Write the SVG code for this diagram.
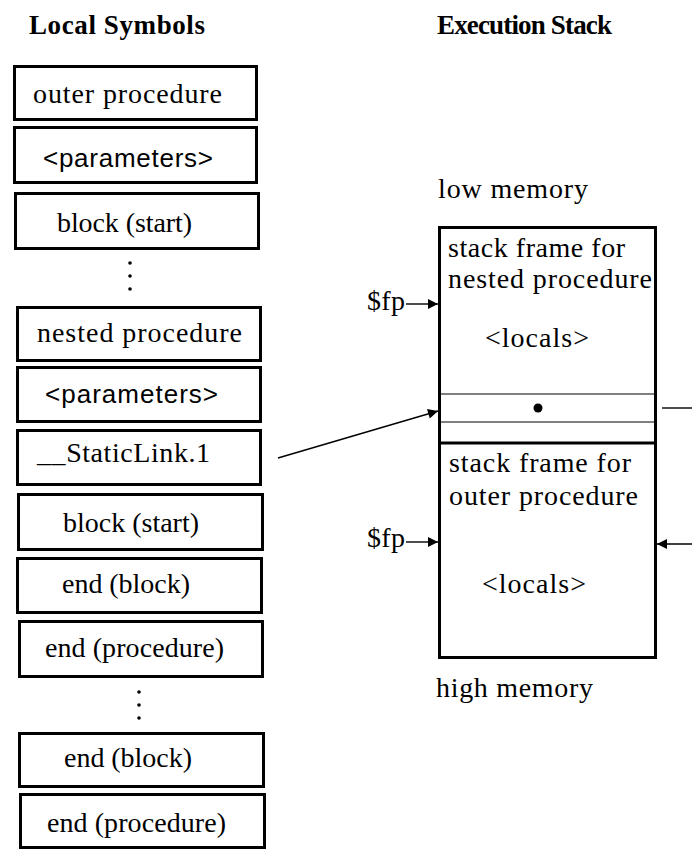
<svg xmlns="http://www.w3.org/2000/svg" width="692" height="850" viewBox="0 0 692 850">
<style>
.box{fill:#fff;stroke:#000;stroke-width:3}
.t{font-family:"Liberation Serif","Times New Roman",serif;font-size:28px;fill:#000}
.s{font-family:"Liberation Sans",Arial,sans-serif;font-size:26px;fill:#000}
.h{font-family:"Liberation Serif","Times New Roman",serif;font-size:27px;font-weight:bold;fill:#000}
.ln{stroke:#000;stroke-width:1.4;fill:none}
</style>
<defs>
<marker id="ah" viewBox="0 0 10 10" refX="10" refY="5" markerWidth="11" markerHeight="10" markerUnits="userSpaceOnUse" orient="auto">
<path d="M0,0 L10,5 L0,10 z" fill="#000"/>
</marker>
</defs>
<rect width="692" height="850" fill="#fff"/>
<text class="h" x="29" y="34" textLength="176" lengthAdjust="spacing">Local Symbols</text>
<text class="h" x="437" y="34" textLength="175" lengthAdjust="spacing">Execution Stack</text>

<g id="outer-procedure"><rect class="box" x="14.5" y="66.5" width="242" height="53"/><text class="t" x="33" y="103" textLength="189" lengthAdjust="spacing">outer procedure</text></g>
<g id="parameters-1"><rect class="box" x="14.5" y="127.5" width="242" height="55"/><text class="s" x="43" y="167" textLength="170" lengthAdjust="spacing">&lt;parameters&gt;</text></g>
<g id="block-start-1"><rect class="box" x="15.5" y="193.5" width="243" height="55"/><text class="t" x="57" y="232" textLength="135" lengthAdjust="spacing">block (start)</text></g>
<g id="dots-1"><circle cx="130" cy="263" r="1.8"/><circle cx="130" cy="276" r="1.8"/><circle cx="130" cy="289" r="1.8"/></g>
<g id="nested-procedure"><rect class="box" x="17.5" y="307.5" width="243" height="53"/><text class="t" x="37" y="342" textLength="205" lengthAdjust="spacing">nested procedure</text></g>
<g id="parameters-2"><rect class="box" x="17.5" y="367.5" width="243" height="54"/><text class="s" x="45" y="403" textLength="173" lengthAdjust="spacing">&lt;parameters&gt;</text></g>
<g id="static-link"><rect class="box" x="17.5" y="430.5" width="243" height="54"/><text class="t" x="37" y="462" textLength="173" lengthAdjust="spacing">__StaticLink.1</text></g>
<g id="block-start-2"><rect class="box" x="18.5" y="494.5" width="244" height="55"/><text class="t" x="63" y="532" textLength="136" lengthAdjust="spacing">block (start)</text></g>
<g id="end-block-1"><rect class="box" x="17.5" y="558.5" width="244" height="54"/><text class="t" x="62" y="593" textLength="128" lengthAdjust="spacing">end (block)</text></g>
<g id="end-procedure-1"><rect class="box" x="19.5" y="621.5" width="243" height="55"/><text class="t" x="45" y="657" textLength="179" lengthAdjust="spacing">end (procedure)</text></g>
<g id="dots-2"><circle cx="139" cy="692" r="1.8"/><circle cx="139" cy="705" r="1.8"/><circle cx="139" cy="718" r="1.8"/></g>
<g id="end-block-2"><rect class="box" x="19.5" y="733.5" width="244" height="53"/><text class="t" x="64" y="767" textLength="128" lengthAdjust="spacing">end (block)</text></g>
<g id="end-procedure-2"><rect class="box" x="20.5" y="794.5" width="244" height="53"/><text class="t" x="47" y="832" textLength="179" lengthAdjust="spacing">end (procedure)</text></g>

<g id="stack">
<rect class="box" x="439.5" y="227.5" width="216" height="430"/>
<line x1="439" y1="394" x2="656" y2="394" stroke="#000" stroke-width="1.2"/>
<line x1="439" y1="422" x2="656" y2="422" stroke="#000" stroke-width="1.2"/>
<line x1="439" y1="443" x2="656" y2="443" stroke="#000" stroke-width="3"/>
<circle cx="538" cy="408" r="4.5"/>
<text class="t" x="438" y="198" textLength="150" lengthAdjust="spacing">low memory</text>
<text class="t" x="448" y="257" textLength="177" lengthAdjust="spacing">stack frame for</text>
<text class="t" x="448" y="288" textLength="204" lengthAdjust="spacing">nested procedure</text>
<text class="t" x="485" y="347" textLength="104" lengthAdjust="spacing">&lt;locals&gt;</text>
<text class="t" x="449" y="472" textLength="182" lengthAdjust="spacing">stack frame for</text>
<text class="t" x="449" y="505" textLength="189" lengthAdjust="spacing">outer procedure</text>
<text class="t" x="482" y="593" textLength="104" lengthAdjust="spacing">&lt;locals&gt;</text>
<text class="t" x="436" y="697" textLength="157" lengthAdjust="spacing">high memory</text>
<text class="t" x="367" y="310" textLength="38" lengthAdjust="spacing">$fp</text>
<text class="t" x="367" y="547" textLength="38" lengthAdjust="spacing">$fp</text>
</g>

<g id="connectors">
<line class="ln" x1="406" y1="304" x2="438" y2="304" marker-end="url(#ah)"/>
<line class="ln" x1="406" y1="542" x2="438" y2="542" marker-end="url(#ah)"/>
<line class="ln" x1="278" y1="458" x2="438" y2="411" marker-end="url(#ah)"/>
<line class="ln" x1="662" y1="408" x2="692" y2="408"/>
<line class="ln" x1="692" y1="544" x2="657" y2="544" marker-end="url(#ah)"/>
</g>
</svg>
